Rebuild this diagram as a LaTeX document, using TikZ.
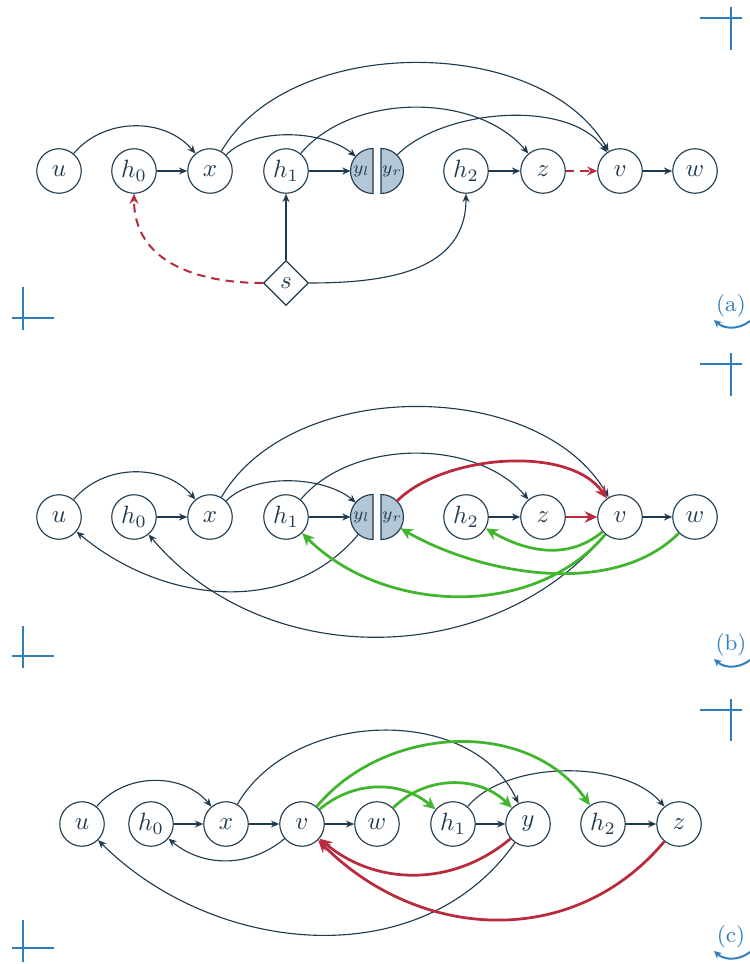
\documentclass[tikz,border=0pt]{standalone}
\usetikzlibrary{arrows.meta,shapes.geometric}
\definecolor{ink}{HTML}{1F3A4F}
\definecolor{halffill}{HTML}{B3C7D6}
\definecolor{hot}{HTML}{B82A3C}
\definecolor{good}{HTML}{41B52E}
\definecolor{mark}{HTML}{2F7EBE}

\begin{document}
\begin{tikzpicture}[x=0.4pt,y=0.4pt,
  vtx/.style={circle,draw=ink,line width=0.45pt,minimum size=17.8pt,inner sep=0pt,text=ink},
  halfspot/.style={circle,minimum size=18pt,inner sep=0pt,outer sep=0pt},
  halfdisc/.style={fill=halffill,draw=ink,line width=0.45pt},
  halftext/.style={text=ink,font=\scriptsize,inner sep=0pt},
  gate/.style={diamond,draw=ink,line width=0.45pt,minimum size=18pt,inner sep=0pt,text=ink},
  edge/.style={draw=ink,line width=0.45pt,-{Stealth[length=3.3pt,width=2.8pt]}},
  redge/.style={draw=hot,line width=1.1pt,-{Stealth[length=5pt,width=4.6pt]}},
  gedge/.style={draw=good,line width=1.1pt,-{Stealth[length=5pt,width=4.6pt]}},
  rdash/.style={draw=hot,line width=0.8pt,dash pattern=on 3.4pt off 2.4pt,-{Stealth[length=4pt,width=3.6pt]}},
  crop/.style={draw=mark,line width=0.8pt},
  tag/.style={text=mark,font=\small},
  turn/.style={draw=mark,line width=0.8pt,-{Stealth[length=3pt,width=3pt]}}
]
\useasboundingbox (0,0) rectangle (750,-964);

% ---------- panel (a) ----------
\node[vtx] (au)  at (59,-171)  {$u$};
\node[vtx] (ah0) at (134,-171) {$h_0$};
\node[vtx] (ax)  at (210,-171) {$x$};
\node[vtx] (ah1) at (286,-171) {$h_1$};
\node[halfspot] (ayl) at (373,-171) {};
\node[halfspot] (ayr) at (381,-171) {};
\node[vtx] (ah2) at (466,-171) {$h_2$};
\node[vtx] (az)  at (543,-171) {$z$};
\node[vtx] (av)  at (620,-171) {$v$};
\node[vtx] (aw)  at (695,-171) {$w$};
\node[gate] (as) at (286,-283) {$s$};
\draw[halfdisc] (ayl.center) ++(0,9pt) arc[start angle=90,end angle=270,radius=9pt] -- cycle;
\draw[halfdisc] (ayr.center) ++(0,9pt) arc[start angle=90,end angle=-90,radius=9pt] -- cycle;
\node[halftext] at ([xshift=-4.6pt]ayl.center) {$y_l$};
\node[halftext] at ([xshift=4.4pt]ayr.center) {$y_r$};

\draw[edge] (au) to[out=50,in=130] (ax);
\draw[edge] (ah0) -- (ax);
\draw[edge] (ax) to[out=45,in=140,looseness=0.8] (ayl);
\draw[edge] (ax) to[out=60,in=120,looseness=0.9] (av);
\draw[edge] (ah1) -- (ayl);
\draw[edge] (ah1) to[out=50,in=130,looseness=0.9] (az);
\draw[edge] (ayr) to[out=45,in=125,looseness=0.8] (av);
\draw[edge] (ah2) -- (az);
\draw[rdash] (az) -- (av);
\draw[edge] (av) -- (aw);
\draw[edge] (as) -- (ah1);
\draw[edge] (as) to[out=0,in=-90,looseness=1.1] (ah2);
\draw[rdash] (as) to[out=180,in=-90,looseness=1.1] (ah0);

\draw[crop] (700,-18) -- (742,-18) (731,-7) -- (731,-50);
\draw[crop] (23,-287) -- (23,-330) (12,-318) -- (54,-318);
\node[tag] (tga) at (731,-306) {(a)};
\draw[turn] (750,-321) to[bend left=40] (714,-320);

% ---------- panel (b) ----------
\node[vtx] (bu)  at (59,-517)  {$u$};
\node[vtx] (bh0) at (134,-517) {$h_0$};
\node[vtx] (bx)  at (210,-517) {$x$};
\node[vtx] (bh1) at (286,-517) {$h_1$};
\node[halfspot] (byl) at (373,-517) {};
\node[halfspot] (byr) at (381,-517) {};
\node[vtx] (bh2) at (466,-517) {$h_2$};
\node[vtx] (bz)  at (543,-517) {$z$};
\node[vtx] (bv)  at (620,-517) {$v$};
\node[vtx] (bw)  at (695,-517) {$w$};
\draw[halfdisc] (byl.center) ++(0,9pt) arc[start angle=90,end angle=270,radius=9pt] -- cycle;
\draw[halfdisc] (byr.center) ++(0,9pt) arc[start angle=90,end angle=-90,radius=9pt] -- cycle;
\node[halftext] at ([xshift=-4.6pt]byl.center) {$y_l$};
\node[halftext] at ([xshift=4.4pt]byr.center) {$y_r$};

\draw[edge] (bu) to[out=50,in=130] (bx);
\draw[edge] (bh0) -- (bx);
\draw[edge] (bx) to[out=45,in=140,looseness=0.8] (byl);
\draw[edge] (bx) to[out=60,in=120,looseness=0.92] (bv);
\draw[edge] (bh1) -- (byl);
\draw[edge] (bh1) to[out=50,in=130,looseness=0.9] (bz);
\draw[edge] (bh2) -- (bz);
\draw[edge] (bv) -- (bw);
\draw[edge] (byl) to[out=-130,in=-40] (bu);
\draw[edge] (bv) to[out=-130,in=-50] (bh0);
\draw[redge] (byr) to[out=45,in=125,looseness=0.8] (bv);
\draw[redge] (bz) -- (bv);
\draw[gedge] (bv) to[out=-140,in=-30] (bh2);
\draw[gedge] (bv) to[out=-130,in=-45,looseness=0.95] (bh1);
\draw[gedge] (bw) to[out=-135,in=-30,looseness=0.85] (byr);

\draw[crop] (700,-364) -- (742,-364) (731,-353) -- (731,-396);
\draw[crop] (23,-626) -- (23,-668) (12,-656) -- (54,-656);
\node[tag] (tgb) at (731,-645) {(b)};
\draw[turn] (750,-660) to[bend left=40] (714,-659);

% ---------- panel (c) ----------
\node[vtx] (cu)  at (82,-824)  {$u$};
\node[vtx] (ch0) at (151,-824) {$h_0$};
\node[vtx] (cx)  at (226,-824) {$x$};
\node[vtx] (cv)  at (302,-824) {$v$};
\node[vtx] (cw)  at (377,-824) {$w$};
\node[vtx] (ch1) at (453,-824) {$h_1$};
\node[vtx] (cy)  at (528,-824) {$y$};
\node[vtx] (ch2) at (603,-824) {$h_2$};
\node[vtx] (cz)  at (679,-824) {$z$};

\draw[edge] (cu) to[out=50,in=130] (cx);
\draw[edge] (ch0) -- (cx);
\draw[edge] (cx) -- (cv);
\draw[edge] (cv) -- (cw);
\draw[edge] (ch1) -- (cy);
\draw[edge] (ch2) -- (cz);
\draw[edge] (cx) to[out=60,in=115] (cy);
\draw[edge] (ch1) to[out=50,in=130,looseness=0.8] (cz);
\draw[edge] (cv) to[out=-140,in=-40] (ch0);
\draw[edge] (cy) to[out=-125,in=-45] (cu);
\draw[gedge] (cv) to[out=50,in=125] (ch2);
\draw[gedge] (cv) to[out=40,in=140] (ch1);
\draw[gedge] (cw) to[out=45,in=135] (cy);
\draw[redge] (cy) to[out=-140,in=-40] (cv);
\draw[redge] (cz) to[out=-130,in=-45,looseness=1.05] (cv);

\draw[crop] (700,-710) -- (742,-710) (731,-699) -- (731,-741);
\draw[crop] (23,-920) -- (23,-962) (12,-948) -- (54,-948);
\node[tag] (tgc) at (731,-937) {(c)};
\draw[turn] (750,-952) to[bend left=40] (714,-951);
\end{tikzpicture}
\end{document}
